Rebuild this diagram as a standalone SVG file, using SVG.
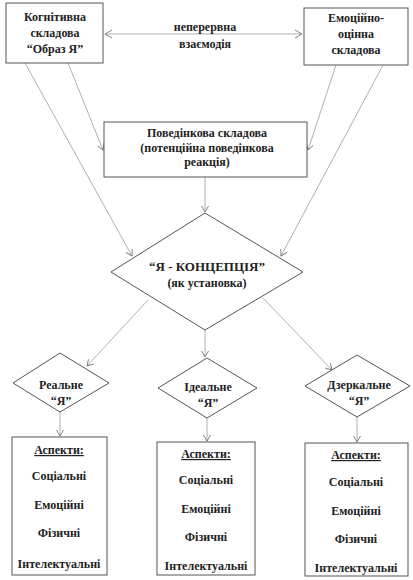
<svg xmlns="http://www.w3.org/2000/svg" width="413" height="580" viewBox="0 0 413 580">
<defs>
<style>
.box{fill:#fff;stroke:#555;stroke-width:1}
.t{font-family:"Liberation Serif","Times New Roman",serif;font-weight:bold;font-size:12px;fill:#222;text-anchor:middle}
.c{fill:none;stroke:#9a9a9a;stroke-width:0.8}
.u{text-decoration:underline}
</style>
<marker id="ah" markerWidth="10" markerHeight="10" refX="8" refY="5" orient="auto" markerUnits="userSpaceOnUse">
<polyline points="2,1.5 8,5 2,8.5" fill="none" stroke="#777" stroke-width="0.9"/>
</marker>
<marker id="ahs" markerWidth="10" markerHeight="10" refX="8" refY="5" orient="auto-start-reverse" markerUnits="userSpaceOnUse">
<polyline points="1,1 8,5 1,9" fill="none" stroke="#777" stroke-width="0.9"/>
</marker>
</defs>
<rect width="413" height="580" fill="#fff"/>
<g id="connectors">
<line class="c" x1="105" y1="34" x2="302" y2="34" marker-start="url(#ahs)" marker-end="url(#ahs)"/>
<line class="c" x1="25" y1="63" x2="132" y2="256" marker-end="url(#ah)"/>
<line class="c" x1="68" y1="63" x2="103" y2="150" marker-end="url(#ah)"/>
<line class="c" x1="336" y1="65" x2="308" y2="150" marker-end="url(#ah)"/>
<line class="c" x1="383" y1="65" x2="281" y2="256" marker-end="url(#ah)"/>
<line class="c" x1="205" y1="177" x2="205" y2="212" marker-end="url(#ah)"/>
<line class="c" x1="148" y1="300" x2="87" y2="366" marker-end="url(#ah)"/>
<line class="c" x1="205" y1="330" x2="205" y2="357" marker-end="url(#ah)"/>
<line class="c" x1="263" y1="298" x2="332" y2="370" marker-end="url(#ah)"/>
<line class="c" x1="60" y1="412" x2="60" y2="436" marker-end="url(#ah)"/>
<line class="c" x1="207" y1="418" x2="207" y2="441" marker-end="url(#ah)"/>
<line class="c" x1="357" y1="417" x2="357" y2="442" marker-end="url(#ah)"/>
</g>
<g id="label-interaction">
<text class="t" x="205" y="31">неперервна</text>
<text class="t" x="205" y="48">взаємодія</text>
</g>
<g id="cognitive">
<rect class="box" x="6" y="3" width="97" height="60"/>
<text class="t" x="55" y="21">Когнітивна</text>
<text class="t" x="55" y="37">складова</text>
<text class="t" x="55" y="53">“Образ Я”</text>
</g>
<g id="emotional">
<rect class="box" x="304" y="8" width="104" height="57"/>
<text class="t" x="356" y="22">Емоційно-</text>
<text class="t" x="356" y="38">оцінна</text>
<text class="t" x="356" y="54">складова</text>
</g>
<g id="behavioral">
<rect class="box" x="104" y="122" width="203" height="55"/>
<text class="t" x="207" y="137">Поведінкова складова</text>
<text class="t" x="207" y="152">(потенційна поведінкова</text>
<text class="t" x="207" y="166">реакція)</text>
</g>
<g id="concept">
<polygon class="box" points="205,213 303,272 205,330 111,272"/>
<text class="t" x="207" y="271" style="font-size:13px">“Я - КОНЦЕПЦІЯ”</text>
<text class="t" x="207" y="287">(як установка)</text>
</g>
<g id="real">
<polygon class="box" points="60,353 109,383 60,412 13,383"/>
<text class="t" x="61" y="389">Реальне</text>
<text class="t" x="61" y="405">“Я”</text>
</g>
<g id="ideal">
<polygon class="box" points="207,358 257,388 207,418 158,388"/>
<text class="t" x="208" y="391">Ідеальне</text>
<text class="t" x="208" y="407">“Я”</text>
</g>
<g id="mirror">
<polygon class="box" points="357,355 410,386 357,417 305,386"/>
<text class="t" x="359" y="389">Дзеркальне</text>
<text class="t" x="359" y="405">“Я”</text>
</g>
<g id="aspects-real">
<rect class="box" x="12" y="437" width="95" height="138"/>
<text class="t u" x="59" y="454">Аспекти:</text>
<text class="t" x="59" y="480">Соціальні</text>
<text class="t" x="59" y="509">Емоційні</text>
<text class="t" x="59" y="537">Фізичні</text>
<text class="t" x="59" y="568">Інтелектуальні</text>
</g>
<g id="aspects-ideal">
<rect class="box" x="157" y="442" width="98" height="133"/>
<text class="t u" x="206" y="458">Аспекти:</text>
<text class="t" x="206" y="484">Соціальні</text>
<text class="t" x="206" y="513">Емоційні</text>
<text class="t" x="206" y="541">Фізичні</text>
<text class="t" x="206" y="570">Інтелектуальні</text>
</g>
<g id="aspects-mirror">
<rect class="box" x="305" y="443" width="103" height="133"/>
<text class="t u" x="356" y="459">Аспекти:</text>
<text class="t" x="356" y="486">Соціальні</text>
<text class="t" x="356" y="515">Емоційні</text>
<text class="t" x="356" y="543">Фізичні</text>
<text class="t" x="356" y="572">Інтелектуальні</text>
</g>
</svg>
